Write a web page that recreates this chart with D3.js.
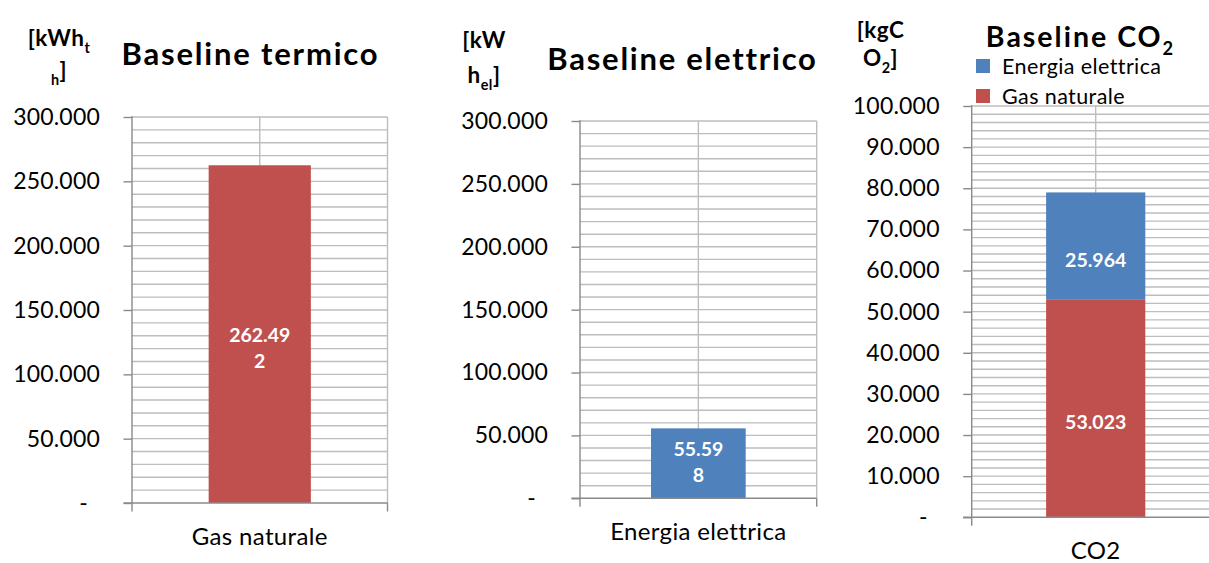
<!DOCTYPE html>
<html>
<head>
<meta charset="utf-8">
<script src="https://cdn.jsdelivr.net/npm/d3@7"></script>
<style>
  html, body { margin: 0; padding: 0; background: #fff; }
  svg { display: block; font-family: Lato, "Open Sans", sans-serif; }
</style>
</head>
<body>
<svg id="chart" width="1209" height="563"></svg>
<script>
// ---- data ----
const categoriesTermico = ["Gas naturale"];
const valuesTermico = [262492];

const categoriesElettrico = ["Energia elettrica"];
const valuesElettrico = [55598];

const categoriesCO2 = ["CO2"];
const seriesCO2 = ["Gas naturale", "Energia elettrica"];
const valuesCO2Gas = [53023];
const valuesCO2Elettrica = [25964];

const ticksKWh = [0, 50000, 100000, 150000, 200000, 250000, 300000];
const ticksCO2 = [0, 10000, 20000, 30000, 40000, 50000, 60000, 70000, 80000, 90000, 100000];

// ---- styles ----
const RED = "#C0504D";
const BLUE = "#4F81BD";
const GRID = "#bdbdbd";
const AXIS = "#8a8a8a";

const it = d3.formatLocale({ decimal: ",", thousands: ".", grouping: [3], currency: ["", " €"] });
const fmt = it.format(",.0f");
const tickFmt = v => (v === 0 ? "-" : fmt(v));

const svg = d3.select("#chart");

// split a label into lines of at most n characters
function chunk(str, n) {
  if (!n) return [str];
  const out = [];
  for (let i = 0; i < str.length; i += n) out.push(str.slice(i, i + n));
  return out;
}

// writes a text made of runs; run.sub = subscript
function richText(g, x, y, runs, opts) {
  const t = g.append("text")
    .attr("x", x).attr("y", y)
    .attr("text-anchor", opts.anchor || "middle")
    .attr("font-size", opts.size)
    .attr("font-weight", opts.weight || "normal")
    .attr("letter-spacing", opts.spacing || 0)
    .attr("fill", "#000");
  let shifted = 0;
  runs.forEach(r => {
    const target = r.sub ? opts.size * 0.3 : 0;
    t.append("tspan")
      .attr("dy", target - shifted)
      .attr("font-size", r.sub ? opts.size * 0.64 : opts.size)
      .text(r.text);
    shifted = target;
  });
  return t;
}

function drawChart(cfg) {
  const g = svg.append("g");

  const x = d3.scaleBand()
    .domain(cfg.categories)
    .range([cfg.left, cfg.right])
    .paddingInner(0.6)
    .paddingOuter(0.3);

  const y = d3.scaleLinear()
    .domain([0, cfg.yMax])
    .range([cfg.bottom, cfg.top]);

  // horizontal gridlines (major + minor)
  g.append("g").selectAll("line")
    .data(d3.range(cfg.minor, cfg.yMax + 1, cfg.minor))
    .join("line")
    .attr("x1", cfg.left).attr("x2", cfg.right)
    .attr("y1", d => y(d)).attr("y2", d => y(d))
    .attr("stroke", GRID).attr("stroke-width", 1.4);

  // vertical gridlines: plot edge and category centre
  const vx = [x.range()[1]].concat(cfg.categories.map(c => x(c) + x.bandwidth() / 2));
  g.append("g").selectAll("line")
    .data(vx)
    .join("line")
    .attr("x1", d => d).attr("x2", d => d)
    .attr("y1", cfg.top).attr("y2", cfg.bottom)
    .attr("stroke", GRID).attr("stroke-width", 1.4);

  // bars (stacked where several series are given)
  const rows = cfg.categories.map((c, i) => {
    const row = { category: c };
    cfg.series.forEach(s => { row[s.name] = s.values[i]; });
    return row;
  });
  const stacked = d3.stack().keys(cfg.series.map(s => s.name))(rows);

  stacked.forEach((layer, li) => {
    const s = cfg.series[li];
    const lg = g.append("g");
    lg.selectAll("rect")
      .data(layer)
      .join("rect")
      .attr("x", d => x(d.data.category))
      .attr("width", x.bandwidth())
      .attr("y", d => y(d[1]))
      .attr("height", d => y(d[0]) - y(d[1]))
      .attr("fill", s.color);

    // value labels
    layer.forEach(d => {
      const value = d[1] - d[0];
      const lines = chunk(fmt(value), cfg.wrap);
      const cx = x(d.data.category) + x.bandwidth() / 2;
      const cy = (y(d[0]) + y(d[1])) / 2 + cfg.labelShift;
      const lh = 25.6;
      const t = lg.append("text")
        .attr("text-anchor", "middle")
        .attr("font-size", 19.5)
        .attr("font-weight", "bold")
        .attr("fill", "#fff");
      lines.forEach((ln, k) => {
        t.append("tspan")
          .attr("x", cx)
          .attr("y", cy + (k - (lines.length - 1) / 2) * lh)
          .attr("dy", "0.35em")
          .text(ln);
      });
    });
  });

  // y axis
  const yAxis = d3.axisLeft(y)
    .tickValues(cfg.ticks)
    .tickFormat(tickFmt)
    .tickSize(8.5)
    .tickSizeOuter(0)
    .tickPadding(23.5);
  const ya = g.append("g")
    .attr("transform", `translate(${cfg.left},0)`)
    .call(yAxis);
  ya.select(".domain").attr("stroke", AXIS).attr("stroke-width", 1.4)
    .attr("d", `M0,${cfg.top - 0.7}V${cfg.bottom}`);
  ya.selectAll(".tick line").attr("stroke", AXIS).attr("stroke-width", 1.4);
  ya.selectAll(".tick text")
    .attr("font-family", "Lato, 'Open Sans', sans-serif")
    .attr("font-size", 23)
    .attr("letter-spacing", 0.2)
    .attr("fill", "#000")
    .attr("dx", d => (d === 0 ? -12 : 0));

  // x axis: baseline with end tick marks
  const [x0, x1] = x.range();
  g.append("line")
    .attr("x1", x0 - 8.5).attr("x2", x1)
    .attr("y1", cfg.bottom).attr("y2", cfg.bottom)
    .attr("stroke", AXIS).attr("stroke-width", 1.4);
  g.append("g").selectAll("line")
    .data([x0, x1])
    .join("line")
    .attr("x1", d => d).attr("x2", d => d)
    .attr("y1", cfg.bottom).attr("y2", cfg.bottom + 8.5)
    .attr("stroke", AXIS).attr("stroke-width", 1.4);

  g.append("g").selectAll("text")
    .data(cfg.categories)
    .join("text")
    .attr("x", d => x(d) + x.bandwidth() / 2)
    .attr("y", cfg.bottom + 42)
    .attr("text-anchor", "middle")
    .attr("font-size", 24)
    .attr("letter-spacing", 0.35)
    .attr("fill", "#000")
    .text(d => d);

  // title
  richText(g, cfg.titleX, cfg.titleY, cfg.title,
    { size: cfg.titleSize, weight: "bold", spacing: cfg.titleSpacing });

  // unit label (two lines)
  cfg.unit.forEach(line => {
    richText(g, cfg.unitX, line.y, line.runs, { size: 22.5, weight: "bold", spacing: 0.5 });
  });

  // legend
  if (cfg.legend) {
    const legendItems = cfg.series.slice().reverse();
    const lg = g.append("g");
    legendItems.forEach((s, i) => {
      const ly = cfg.legend.y + i * 30;
      lg.append("rect")
        .attr("x", cfg.legend.x).attr("y", ly)
        .attr("width", 14).attr("height", 14)
        .attr("fill", s.color);
      lg.append("text")
        .attr("x", cfg.legend.x + 26).attr("y", ly + 7)
        .attr("dy", "0.35em")
        .attr("font-size", 21.5)
        .attr("letter-spacing", 0.4)
        .attr("fill", "#000")
        .text(s.name);
    });
  }
}

drawChart({
  categories: categoriesTermico,
  series: [{ name: "Gas naturale", values: valuesTermico, color: RED }],
  ticks: ticksKWh,
  yMax: 300000, minor: 10000,
  left: 132, right: 387.5, top: 117, bottom: 503,
  wrap: 6, labelShift: 14,
  title: [{ text: "Baseline termico" }], titleX: 250.5, titleY: 65, titleSize: 31, titleSpacing: 1.8,
  unitX: 59,
  unit: [
    { y: 46, runs: [{ text: "[kWh" }, { text: "t", sub: true }] },
    { y: 78, runs: [{ text: "h", sub: true }, { text: "]" }] }
  ]
});

drawChart({
  categories: categoriesElettrico,
  series: [{ name: "Energia elettrica", values: valuesElettrico, color: BLUE }],
  ticks: ticksKWh,
  yMax: 300000, minor: 10000,
  left: 580, right: 816.7, top: 121, bottom: 498.3,
  wrap: 5, labelShift: -1,
  title: [{ text: "Baseline elettrico" }], titleX: 682.5, titleY: 70, titleSize: 31, titleSpacing: 1.75,
  unitX: 484,
  unit: [
    { y: 48, runs: [{ text: "[kW" }] },
    { y: 83, runs: [{ text: "h" }, { text: "el", sub: true }, { text: "]" }] }
  ]
});

drawChart({
  categories: categoriesCO2,
  series: [
    { name: seriesCO2[0], values: valuesCO2Gas, color: RED },
    { name: seriesCO2[1], values: valuesCO2Elettrica, color: BLUE }
  ],
  ticks: ticksCO2,
  yMax: 100000, minor: 2000,
  left: 971.7, right: 1219.7, top: 106, bottom: 517.3,
  wrap: null, labelShift: 14,
  title: [{ text: "Baseline CO" }, { text: "2", sub: true }], titleX: 1080.5, titleY: 46.7, titleSize: 28.5, titleSpacing: 2,
  unitX: 880.5,
  unit: [
    { y: 38, runs: [{ text: "[kgC" }] },
    { y: 66, runs: [{ text: "O" }, { text: "2", sub: true }, { text: "]" }] }
  ],
  legend: { x: 976, y: 59 }
});
</script>
</body>
</html>
